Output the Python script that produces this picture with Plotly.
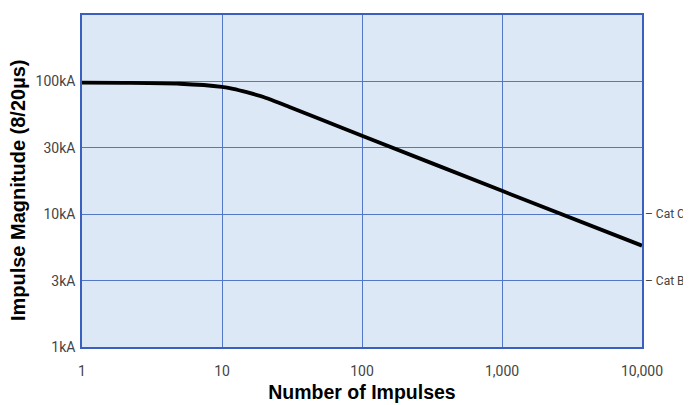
import math
import plotly.graph_objects as go

# Data (kA vs number of impulses)
impulses = [1, 2, 5, 10, 12, 15, 20, 30, 50, 100, 1000, 10000]
magnitude_ka = [98, 97.5, 96, 91, 88, 83, 76, 64.5, 52, 39, 15.0, 5.8]

x_tick_values = [1, 10, 100, 1000, 10000]
x_tick_labels = ["1", "10", "100", "1,000", "10,000"]
y_tick_values = [1, 3.162, 10, 31.62, 100]
y_tick_labels = ["1kA", "3kA", "10kA", "30kA", "100kA"]

cat_labels = ["– Cat C", "– Cat B"]
cat_levels = [10, 3.162]

fig = go.Figure()
fig.add_trace(go.Scatter(
    x=impulses, y=magnitude_ka, mode="lines",
    line=dict(color="black", width=3.8, shape="spline", smoothing=0.6),
    showlegend=False, hoverinfo="skip",
))

for lab, lev in zip(cat_labels, cat_levels):
    fig.add_annotation(x=1.0, xref="paper", y=math.log10(lev), yref="y", text=lab,
                       showarrow=False, xanchor="left", xshift=1,
                       font=dict(family="Roboto, Arial", size=12, color="#444444"))

grid_col = "#5277c4"
tick_font = dict(family="Roboto, Arial", size=14, color="#444444")
title_font = dict(family="Liberation Sans, Arial", size=19.5, color="black", weight="bold")

fig.add_annotation(x=-0.114, xref="paper", y=0.473, yref="paper",
                   text="Impulse Magnitude (8/20µs)", textangle=-90, showarrow=False,
                   xanchor="center", yanchor="middle",
                   font=dict(family="Liberation Sans, Arial", size=20, color="black", weight="bold"))

fig.update_xaxes(
    type="log", range=[0, 4],
    tickvals=x_tick_values, ticktext=x_tick_labels,
    showgrid=True, gridcolor=grid_col, gridwidth=1,
    showline=True, linecolor="#3a5fbf", linewidth=1.5, mirror=True,
    ticks="", zeroline=False, ticklabelstandoff=10,
    tickfont=tick_font,
    title=dict(text="Number of Impulses", standoff=8, font=title_font),
)
fig.update_yaxes(
    type="log", range=[0, 2.5],
    tickvals=y_tick_values, ticktext=y_tick_labels,
    showgrid=True, gridcolor=grid_col, gridwidth=1,
    showline=True, linecolor="#3a5fbf", linewidth=1.5, mirror=True,
    ticks="", zeroline=False, ticklabelstandoff=2,
    tickfont=tick_font,
)
fig.update_layout(
    width=683, height=397,
    margin=dict(l=74, r=49, t=5, b=58),
    plot_bgcolor="#dce8f6", paper_bgcolor="white",
)
fig.write_html("out.html")
